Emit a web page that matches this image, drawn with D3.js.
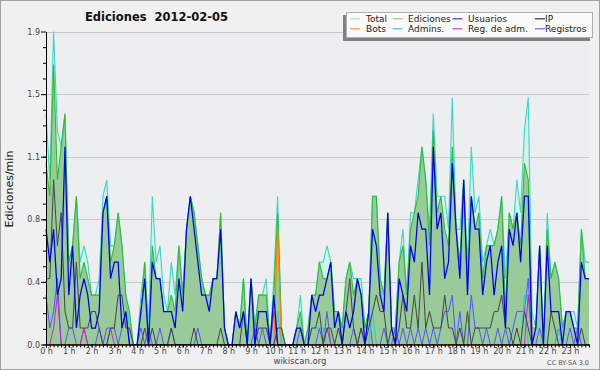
<!DOCTYPE html>
<html><head><meta charset="utf-8">
<script src="https://cdn.jsdelivr.net/npm/d3@7"></script>
<style>
html,body{margin:0;padding:0;background:#f0f0f0;}
svg{display:block;font-family:"DejaVu Sans",sans-serif;}
</style></head><body>
<svg id="c" width="600" height="370"></svg>
<script>
// ---- data: 144 ten-minute bins, edits per minute ----
const hourLabels = ["0 h","1 h","2 h","3 h","4 h","5 h","6 h","7 h","8 h","9 h","10 h","11 h",
  "12 h","13 h","14 h","15 h","16 h","17 h","18 h","19 h","20 h","21 h","22 h","23 h"];
const yTickValues = [0, 0.38, 0.76, 1.14, 1.52, 1.9];
const yTickLabels = ["0.0","0.4","0.8","1.1","1.5","1.9"];

const total = [
 1.4,1.0,1.9,1.3,1.2,1.4, 0.5,0.6,0.9,0.5,0.6,0.5, 0.3,0.3,0.4,0.9,1.0,0.6, 0.6,0.8,0.6,0.3,0.1,0,
 0,0.3,0.5,0.1,0.9,0.5, 0.6,0.3,0.2,0.5,0.3,0.6, 0.3,0.7,0.9,0.8,0.6,0.4, 0.3,0.3,0.4,0.4,0.8,0.1,
 0,0,0.2,0.1,0.4,0, 0.4,0.1,0.3,0.3,0.4,0, 0.4,0.9,0.1,0,0,0, 0.1,0.3,0,0.1,0.3,0.3,
 0.5,0.5,0.6,0.5,0.2,0.2, 0.1,0.4,0.5,0.4,0.4,0.4, 0.1,0.2,0.9,0.9,0.4,0.3, 0.8,0.1,0.1,0.5,0.7,0.3,
 0.8,0.8,1.0,1.2,1.0,0.7, 1.4,0.9,0.9,0.9,0.7,1.5, 0.7,0.7,1.0,0.5,1.2,0.8, 0.9,0.5,0.6,0.7,0.6,0.7,
 0.9,0.4,0.8,0.7,1.0,0.8, 1.3,1.5,0.2,0.1,0.6,0, 0.8,0.4,0.5,0.4,0.1,0.2, 0.2,0.2,0.1,0.7,0.5,0.5];
const ediciones = [
 1.1,0.9,1.7,1.0,1.2,1.4, 0.5,0.6,0.9,0.4,0.5,0.4, 0.3,0.3,0.3,0.8,0.9,0.5, 0.6,0.8,0.6,0.3,0.2,0,
 0,0.2,0.5,0,0.6,0.4, 0.4,0.2,0.2,0.3,0.2,0.6, 0.3,0.7,0.9,0.8,0.6,0.4, 0.3,0.3,0.4,0.4,0.8,0.1,
 0,0,0.2,0.1,0.4,0, 0.4,0.1,0.3,0.3,0.3,0, 0.3,0.8,0.1,0,0,0, 0.1,0.2,0,0.1,0.3,0.3,
 0.5,0.4,0.4,0.5,0.2,0.2, 0.1,0.4,0.5,0.3,0.4,0.3, 0.1,0.2,0.9,0.9,0.4,0.3, 0.8,0.1,0.1,0.5,0.6,0.3,
 0.7,0.8,0.9,1.2,1.0,0.6, 1.3,0.8,0.9,0.7,0.6,1.2, 0.7,0.5,1.0,0.4,0.9,0.7, 0.8,0.4,0.6,0.6,0.6,0.7,
 0.9,0.2,0.8,0.7,0.8,0.6, 1.1,1.0,0.1,0.1,0.6,0, 0.7,0.4,0.5,0.4,0.1,0.2, 0.2,0.1,0.1,0.7,0.4,0.4];
const usuarios = [
 0.7,0.5,0.7,0.3,0.4,1.2, 0.3,0.6,0.1,0.3,0.4,0.3, 0.1,0.1,0.2,0.8,0.9,0.4, 0.5,0.5,0.1,0.2,0,0,
 0,0.2,0.4,0,0.5,0.4, 0.4,0.2,0.2,0.2,0.1,0.4, 0.2,0.7,0.9,0.7,0.5,0.3, 0.3,0.2,0.4,0.4,0.7,0.1,
 0,0,0.2,0.1,0.2,0, 0.4,0,0.2,0.2,0.2,0, 0.3,0,0,0,0,0, 0.1,0.1,0,0,0.3,0.2,
 0.3,0.3,0.4,0.5,0.1,0.2, 0,0.2,0.1,0.2,0.4,0.3, 0,0.2,0.7,0.6,0.3,0.2, 0.8,0.1,0,0.4,0.3,0.2,
 0.6,0.5,0.8,0.7,0.7,0.3, 1.2,0.7,0.8,0.4,0.5,1.1, 0.7,0.4,1.0,0.3,0.9,0.7, 0.7,0.3,0.5,0.6,0.3,0.5,
 0.6,0.1,0.7,0.6,0.8,0.5, 0.9,0.9,0,0.1,0.6,0, 0.6,0.2,0.2,0.2,0,0.2, 0.2,0.1,0,0.5,0.4,0.4];
const ip = [
 0.4,0.4,1.0,0.6,0.8,0.2, 0.1,0.1,0.5,0.1,0.1,0.1, 0.2,0.2,0.1,0,0,0.1, 0.1,0.3,0.3,0.1,0.1,0,
 0,0,0.1,0,0.1,0, 0,0,0,0.1,0,0, 0,0,0,0.1,0,0, 0,0,0,0,0.1,0,
 0,0,0,0,0.2,0, 0,0,0.1,0.1,0.1,0, 0,0.1,0.1,0,0,0, 0,0,0,0,0.1,0.1,
 0.2,0,0.1,0.1,0,0.1, 0,0.2,0.4,0.1,0,0.1, 0,0.1,0.2,0.3,0.2,0.2, 0,0.1,0,0.1,0.3,0.1,
 0.1,0.3,0.1,0.5,0.1,0.2, 0.1,0.1,0.1,0.3,0.1,0.1, 0,0.1,0,0.2,0,0.1, 0.1,0.1,0.1,0.1,0.2,0.2,
 0.3,0.1,0.1,0,0.1,0, 0.2,0.1,0,0,0,0, 0,0.2,0.1,0,0,0, 0,0,0,0.1,0,0];
const bots = [
 0,0,0,0,0,0, 0,0,0,0,0,0, 0,0,0,0,0,0, 0,0,0,0,0,0,
 0,0,0,0,0,0, 0,0,0,0,0,0, 0,0,0,0,0,0, 0,0,0,0,0,0,
 0,0,0,0,0,0, 0,0,0,0,0,0, 0,0.7,0,0,0,0, 0,0,0,0,0,0,
 0,0,0,0,0,0, 0,0,0,0,0,0, 0,0,0,0,0,0, 0,0,0,0,0,0,
 0,0,0,0,0,0, 0,0,0,0,0,0, 0,0,0,0,0,0, 0,0,0,0,0,0,
 0,0,0,0,0,0, 0,0,0,0,0,0, 0,0,0,0,0,0, 0,0,0,0,0,0];
const admins = [
 0,0,0,0,0,0, 0,0,0,0,0,0, 0,0,0,0,0,0, 0,0,0,0,0,0,
 0,0,0,0,0,0, 0,0,0,0,0,0, 0,0,0,0,0,0, 0,0,0,0,0,0,
 0,0,0,0,0,0, 0,0,0,0,0,0, 0,0.2,0,0,0,0, 0,0,0,0,0.1,0.1,
 0.1,0.1,0,0,0,0, 0,0,0,0,0,0, 0,0,0.2,0,0,0, 0,0,0,0,0,0,
 0,0,0,0,0,0, 0,0,0,0,0,0, 0,0,0,0,0,0, 0,0,0,0,0,0,
 0,0,0,0,0,0, 0.3,0,0,0,0,0, 0,0,0,0.1,0,0, 0,0,0,0,0,0];
const regAdm = [
 0,0,0.1,0.3,0,0, 0,0,0,0,0.1,0, 0,0,0,0,0,0.1, 0,0,0,0,0,0,
 0,0,0,0,0,0, 0,0,0,0,0,0, 0,0,0,0,0,0, 0,0,0,0,0,0,
 0,0,0,0,0,0, 0,0,0,0,0,0, 0.2,0,0,0,0,0, 0,0,0,0,0,0,
 0,0,0.1,0,0,0, 0,0,0,0,0,0, 0,0,0,0,0,0, 0,0,0,0,0,0,
 0,0,0,0,0,0, 0,0,0,0,0,0, 0,0,0,0,0,0, 0,0,0,0,0,0,
 0,0,0,0,0,0, 0,0.3,0,0,0,0, 0,0,0,0,0,0, 0,0,0,0,0,0];
const registros = [
 0.3,0.1,0.2,0.4,0,0, 0.1,0.1,0,0,0.1,0, 0,0,0.1,0,0.1,0.1, 0.1,0,0.1,0.2,0,0,
 0,0.1,0,0.1,0,0, 0.1,0,0,0.1,0,0, 0,0,0,0,0.1,0, 0,0,0,0,0,0,
 0,0,0,0,0,0, 0,0.1,0,0.1,0,0, 0.2,0,0,0,0,0, 0,0.1,0,0,0,0,
 0.1,0,0.2,0,0,0, 0,0,0,0.1,0,0.1, 0,0.2,0,0,0,0.1, 0,0,0.1,0,0.1,0,
 0.1,0,0.1,0,0.1,0, 0.1,0,0.1,0.2,0.2,0.3, 0,0.2,0,0,0.3,0.1, 0.1,0,0.1,0,0,0.1,
 0,0.1,0,0.1,0.2,0.2, 0.2,0.4,0,0,0.1,0, 0,0,0,0.1,0,0, 0.1,0,0.1,0,0,0];

const legendNames = ["Total","Ediciones","Usuarios","IP","Bots","Admins.","Reg. de adm.","Registros"];
const legendColors = ["#a8e6dc","#8ed08e","#3c3cdc","#333333","#ff9a2a","#3cc8dc","#cc3ccc","#6a6aff"];

// ---- drawing ----
const svg = d3.select("#c");
const x = d3.scaleLinear().domain([0, 143]).range([46, 589]);
const y = d3.scaleLinear().domain([0, 1.9]).range([344.5, 31.5]);

svg.append("rect").attr("x",0.5).attr("y",0.5).attr("width",599).attr("height",369)
  .attr("fill","#f0f0f0").attr("stroke","#a0a0a0");
svg.append("rect").attr("x",46).attr("y",31.5).attr("width",543).attr("height",313)
  .attr("fill","#eceef0");

// grid
svg.append("g").selectAll("line").data(yTickValues.slice(1)).join("line")
  .attr("x1",46).attr("x2",589).attr("y1",d=>Math.round(y(d))+0.5).attr("y2",d=>Math.round(y(d))+0.5)
  .attr("stroke","#c8c8c8").attr("stroke-width",1);

const idx = d3.range(144);
const area = arr => d3.area().x(i=>x(i)).y0(y(0)).y1(i=>y(arr[i]))(idx);
const line = arr => d3.line().x(i=>x(i)).y(i=>y(arr[i]))(idx);

svg.append("path").attr("d",area(total)).attr("fill","#d2f2ea");
svg.append("path").attr("d",area(ediciones)).attr("fill","#98cb98");

const lines = [
  [total,"#3cd6c8",1.1],
  [ediciones,"#33bb33",1.1],
  [registros,"#5555ff",1],
  [admins,"#22ccdd",1],
  [regAdm,"#cc22cc",1],
  [bots,"#ff8800",1.2],
  [ip,"#444444",1],
  [usuarios,"#0000ee",1.25]
];
lines.forEach(([arr,col,w]) => {
  svg.append("path").attr("d",line(arr)).attr("fill","none")
    .attr("stroke",col).attr("stroke-width",w);
});

// axes
const yMinor = d3.axisLeft(y).tickValues(d3.range(0,20).map(k=>k*0.095)).tickSize(3).tickFormat("").tickSizeOuter(0);
const yMajor = d3.axisLeft(y).tickValues(yTickValues).tickSize(5).tickPadding(1).tickSizeOuter(0)
  .tickFormat((d,i)=>yTickLabels[i]);
const gy1 = svg.append("g").attr("transform","translate(46,0)").call(yMinor);
const gy = svg.append("g").attr("transform","translate(46,0)").call(yMajor);
const xMinor = d3.axisBottom(x).tickValues(idx).tickSize(3).tickFormat("").tickSizeOuter(0);
const xMajor = d3.axisBottom(x).tickValues(d3.range(0,144,6)).tickSize(3).tickPadding(1).tickSizeOuter(0)
  .tickFormat((d,i)=>hourLabels[i]);
const gx1 = svg.append("g").attr("transform","translate(0,344.5)").call(xMinor);
const gx = svg.append("g").attr("transform","translate(0,344.5)").call(xMajor);
[gy1,gy,gx1,gx].forEach(g=>{
  g.selectAll("path,line").attr("stroke","#000");
  g.selectAll("text").attr("fill","#444").style("font-size","8px").style("font-family","DejaVu Sans");
});

// title
svg.append("text").attr("x",85).attr("y",21).style("white-space","pre")
  .style("font-weight","bold").style("font-size","11.5px").attr("fill","#111")
  .text("Ediciones  2012-02-05");

// y label
svg.append("text").attr("transform","translate(13,189) rotate(-90)").attr("text-anchor","middle")
  .style("font-size","11px").attr("fill","#111").text("Ediciones/min");

// footer
svg.append("text").attr("x",300).attr("y",363.5).attr("text-anchor","middle")
  .style("font-size","8.5px").attr("fill","#444").text("wikiscan.org");
svg.append("text").attr("x",589).attr("y",364.5).attr("text-anchor","end")
  .style("font-size","6.5px").attr("fill","#555").text("CC BY-SA 3.0");

// legend
const lg = svg.append("g");
lg.append("rect").attr("x",343).attr("y",15).attr("width",247).attr("height",26).attr("fill","#808080");
lg.append("rect").attr("x",346.5).attr("y",12.5).attr("width",246).attr("height",25)
  .attr("fill","#fafafa").attr("stroke","#b0b0b0");
const colSw = [350, 392.5, 452.5, 535];
const colTx = [366, 408, 468, 545];
legendNames.forEach((n,k)=>{
  const c = k%4, r = Math.floor(k/4);
  const yy = 22.3 + r*10;
  lg.append("line").attr("x1",colSw[c]).attr("x2",colSw[c]+10).attr("y1",yy-3.5).attr("y2",yy-3.5)
    .attr("stroke",legendColors[k]).attr("stroke-width",1.2);
  lg.append("text").attr("x",colTx[c]).attr("y",yy).style("font-size","9px").attr("fill","#222").text(n);
});
</script>
</body></html>
